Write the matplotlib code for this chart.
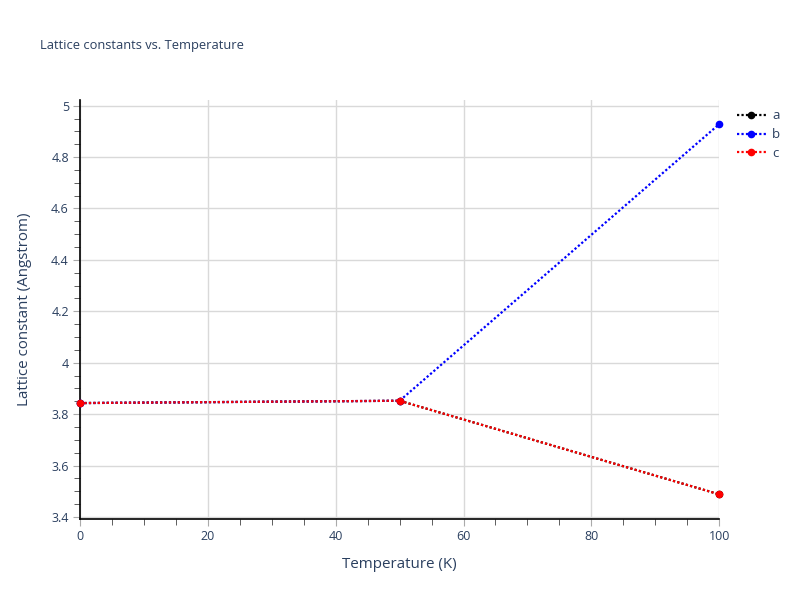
import matplotlib.pyplot as plt
from matplotlib.ticker import MultipleLocator

temperature = [0, 50, 100]
lat_a = [3.843, 3.852, 3.488]
lat_b = [3.843, 3.852, 4.928]
lat_c = [3.843, 3.852, 3.488]

plt.rcParams['font.family'] = ['Open Sans', 'DejaVu Sans']
txt = '#2a3f5f'

fig = plt.figure(figsize=(8, 6), dpi=100)
ax = fig.add_axes([0.1, 0.135, 0.799, 0.6983])

for y, col, name in [(lat_a, 'black', 'a'), (lat_b, 'blue', 'b'), (lat_c, 'red', 'c')]:
    ax.plot(temperature, y, color=col, linestyle=(0, (1, 1)), linewidth=1.6,
            marker='o', markersize=4.5, label=name, clip_on=False, zorder=3)

ax.set_xlim(0, 100)
ax.set_ylim(3.392, 5.022)
ax.xaxis.set_major_locator(MultipleLocator(20))
ax.xaxis.set_minor_locator(MultipleLocator(5))
ax.yaxis.set_minor_locator(MultipleLocator(0.05))
ax.set_yticks([3.4, 3.6, 3.8, 4.0, 4.2, 4.4, 4.6, 4.8, 5.0])
ax.set_yticklabels(['3.4', '3.6', '3.8', '4', '4.2', '4.4', '4.6', '4.8', '5'])
ax.grid(True, which='major', color='#d9d9d9', linewidth=1)
ax.set_axisbelow(True)

for s in ['top', 'right']:
    ax.spines[s].set_visible(False)
for s in ['left', 'bottom']:
    ax.spines[s].set_color('black')
    ax.spines[s].set_linewidth(1.2)

ax.tick_params(which='major', length=5, color='#aaaaaa', labelcolor=txt, labelsize=9, pad=3)
ax.tick_params(which='minor', length=4, color='#444444')

ax.set_xlabel('Temperature (K)', color=txt, fontsize=10.9, labelpad=10)
ax.set_ylabel('Lattice constant (Angstrom)', color=txt, fontsize=10.9, labelpad=14)
fig.text(0.05, 0.925, 'Lattice constants vs. Temperature', color=txt, fontsize=9.3, va='center')

leg = ax.legend(loc='upper left', bbox_to_anchor=(1.015, 0.997), frameon=False,
                fontsize=9.5, labelcolor=txt, handlelength=2.2, handletextpad=0.5,
                labelspacing=0.45, borderaxespad=0.2)

fig.savefig('out.png')
